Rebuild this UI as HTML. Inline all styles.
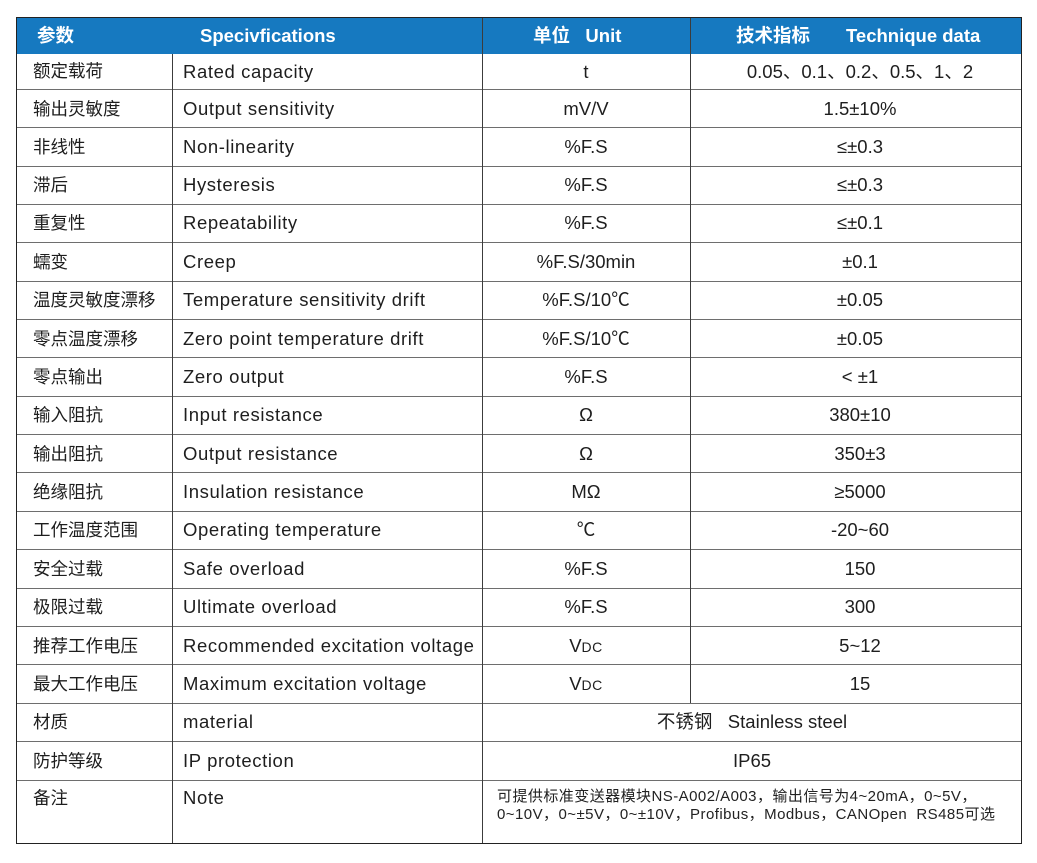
<!DOCTYPE html>
<html>
<head>
<meta charset="utf-8">
<style>
  html,body{margin:0;padding:0;background:#fff;}
  body{width:1037px;height:863px;position:relative;overflow:hidden;
       font-family:"Liberation Sans","Noto Sans CJK SC",sans-serif;color:#1e1e1e;}
  .hdr{position:absolute;left:17px;top:17px;width:1005px;height:37px;background:#1679c0;}
  .ht{position:absolute;top:17px;height:37px;line-height:37px;color:#fff;font-weight:bold;font-size:18.5px;white-space:nowrap;}
  .hl{position:absolute;left:17px;width:1005px;height:1px;background:#6e6e6e;}
  .vl{position:absolute;width:1.4px;background:#3c3c3c;}
  .c1{position:absolute;left:33px;font-size:17.5px;white-space:nowrap;}
  .c2{position:absolute;left:183px;font-size:18.5px;letter-spacing:0.6px;white-space:nowrap;}
  .c3{position:absolute;left:482px;width:208px;text-align:center;font-size:18.5px;white-space:nowrap;}
  .c4{position:absolute;left:694px;width:332px;text-align:center;font-size:18.5px;white-space:nowrap;}
  .cm{position:absolute;left:482px;width:540px;text-align:center;font-size:18.5px;white-space:nowrap;}
  .sc{font-size:14px;letter-spacing:0.5px;}
  .note{position:absolute;left:497px;top:788px;font-size:15px;line-height:18px;letter-spacing:0.45px;white-space:nowrap;color:#222;}
</style>
</head>
<body>
<div class="hdr"></div>
<div class="ht" style="left:37px;">参数</div>
<div class="ht" style="left:200px;">Specivfications</div>
<div class="ht" style="left:533px;">单位&nbsp;&nbsp;&nbsp;Unit</div>
<div class="ht" style="left:736px;">技术指标&nbsp;&nbsp;&nbsp;&nbsp;&nbsp;&nbsp;&nbsp;Technique data</div>

<!-- horizontal lines -->
<div class="hl" style="top:89px;"></div>
<div class="hl" style="top:127px;"></div>
<div class="hl" style="top:166px;"></div>
<div class="hl" style="top:204px;"></div>
<div class="hl" style="top:242px;"></div>
<div class="hl" style="top:281px;"></div>
<div class="hl" style="top:319px;"></div>
<div class="hl" style="top:357px;"></div>
<div class="hl" style="top:396px;"></div>
<div class="hl" style="top:434px;"></div>
<div class="hl" style="top:472px;"></div>
<div class="hl" style="top:511px;"></div>
<div class="hl" style="top:549px;"></div>
<div class="hl" style="top:588px;"></div>
<div class="hl" style="top:626px;"></div>
<div class="hl" style="top:664px;"></div>
<div class="hl" style="top:703px;"></div>
<div class="hl" style="top:741px;"></div>
<div class="hl" style="top:780px;"></div>

<!-- vertical lines -->
<div class="vl" style="left:171.5px;top:54px;height:790px;"></div>
<div class="vl" style="left:481.5px;top:17px;height:827px;"></div>
<div class="vl" style="left:689.5px;top:17px;height:686px;"></div>

<!-- outer border -->
<div style="position:absolute;left:16px;top:16.5px;width:1004px;height:825.5px;border:1.8px solid #222;"></div>

<!-- rows -->
<div class="c1" style="top:54px;line-height:35.5px;">额定载荷</div>
<div class="c2" style="top:54px;line-height:35.5px;">Rated capacity</div>
<div class="c3" style="top:54px;line-height:35.5px;">t</div>
<div class="c4" style="top:54px;line-height:35.5px;">0.05、0.1、0.2、0.5、1、2</div>

<div class="c1" style="top:89.5px;line-height:38.4px;">输出灵敏度</div>
<div class="c2" style="top:89.5px;line-height:38.4px;">Output sensitivity</div>
<div class="c3" style="top:89.5px;line-height:38.4px;">mV/V</div>
<div class="c4" style="top:89.5px;line-height:38.4px;">1.5±10%</div>

<div class="c1" style="top:128px;line-height:38.4px;">非线性</div>
<div class="c2" style="top:128px;line-height:38.4px;">Non-linearity</div>
<div class="c3" style="top:128px;line-height:38.4px;">%F.S</div>
<div class="c4" style="top:128px;line-height:38.4px;">≤±0.3</div>

<div class="c1" style="top:166px;line-height:38.4px;">滞后</div>
<div class="c2" style="top:166px;line-height:38.4px;">Hysteresis</div>
<div class="c3" style="top:166px;line-height:38.4px;">%F.S</div>
<div class="c4" style="top:166px;line-height:38.4px;">≤±0.3</div>

<div class="c1" style="top:204.4px;line-height:38.4px;">重复性</div>
<div class="c2" style="top:204.4px;line-height:38.4px;">Repeatability</div>
<div class="c3" style="top:204.4px;line-height:38.4px;">%F.S</div>
<div class="c4" style="top:204.4px;line-height:38.4px;">≤±0.1</div>

<div class="c1" style="top:242.8px;line-height:38.4px;">蠕变</div>
<div class="c2" style="top:242.8px;line-height:38.4px;">Creep</div>
<div class="c3" style="top:242.8px;line-height:38.4px;">%F.S/30min</div>
<div class="c4" style="top:242.8px;line-height:38.4px;">±0.1</div>

<div class="c1" style="top:281.1px;line-height:38.4px;">温度灵敏度漂移</div>
<div class="c2" style="top:281.1px;line-height:38.4px;">Temperature sensitivity drift</div>
<div class="c3" style="top:281.1px;line-height:38.4px;">%F.S/10℃</div>
<div class="c4" style="top:281.1px;line-height:38.4px;">±0.05</div>

<div class="c1" style="top:319.5px;line-height:38.4px;">零点温度漂移</div>
<div class="c2" style="top:319.5px;line-height:38.4px;">Zero point temperature drift</div>
<div class="c3" style="top:319.5px;line-height:38.4px;">%F.S/10℃</div>
<div class="c4" style="top:319.5px;line-height:38.4px;">±0.05</div>

<div class="c1" style="top:357.9px;line-height:38.4px;">零点输出</div>
<div class="c2" style="top:357.9px;line-height:38.4px;">Zero output</div>
<div class="c3" style="top:357.9px;line-height:38.4px;">%F.S</div>
<div class="c4" style="top:357.9px;line-height:38.4px;">&lt; ±1</div>

<div class="c1" style="top:396.3px;line-height:38.4px;">输入阻抗</div>
<div class="c2" style="top:396.3px;line-height:38.4px;">Input resistance</div>
<div class="c3" style="top:396.3px;line-height:38.4px;">Ω</div>
<div class="c4" style="top:396.3px;line-height:38.4px;">380±10</div>

<div class="c1" style="top:434.6px;line-height:38.4px;">输出阻抗</div>
<div class="c2" style="top:434.6px;line-height:38.4px;">Output resistance</div>
<div class="c3" style="top:434.6px;line-height:38.4px;">Ω</div>
<div class="c4" style="top:434.6px;line-height:38.4px;">350±3</div>

<div class="c1" style="top:473px;line-height:38.4px;">绝缘阻抗</div>
<div class="c2" style="top:473px;line-height:38.4px;">Insulation resistance</div>
<div class="c3" style="top:473px;line-height:38.4px;">MΩ</div>
<div class="c4" style="top:473px;line-height:38.4px;">≥5000</div>

<div class="c1" style="top:511.4px;line-height:38.4px;">工作温度范围</div>
<div class="c2" style="top:511.4px;line-height:38.4px;">Operating temperature</div>
<div class="c3" style="top:511.4px;line-height:38.4px;">℃</div>
<div class="c4" style="top:511.4px;line-height:38.4px;">-20~60</div>

<div class="c1" style="top:549.8px;line-height:38.4px;">安全过载</div>
<div class="c2" style="top:549.8px;line-height:38.4px;">Safe overload</div>
<div class="c3" style="top:549.8px;line-height:38.4px;">%F.S</div>
<div class="c4" style="top:549.8px;line-height:38.4px;">150</div>

<div class="c1" style="top:588.1px;line-height:38.4px;">极限过载</div>
<div class="c2" style="top:588.1px;line-height:38.4px;">Ultimate overload</div>
<div class="c3" style="top:588.1px;line-height:38.4px;">%F.S</div>
<div class="c4" style="top:588.1px;line-height:38.4px;">300</div>

<div class="c1" style="top:626.5px;line-height:38.4px;">推荐工作电压</div>
<div class="c2" style="top:626.5px;line-height:38.4px;">Recommended excitation voltage</div>
<div class="c3" style="top:626.5px;line-height:38.4px;">V<span class="sc">DC</span></div>
<div class="c4" style="top:626.5px;line-height:38.4px;">5~12</div>

<div class="c1" style="top:664.9px;line-height:38.4px;">最大工作电压</div>
<div class="c2" style="top:664.9px;line-height:38.4px;">Maximum excitation voltage</div>
<div class="c3" style="top:664.9px;line-height:38.4px;">V<span class="sc">DC</span></div>
<div class="c4" style="top:664.9px;line-height:38.4px;">15</div>

<div class="c1" style="top:703.3px;line-height:38.4px;">材质</div>
<div class="c2" style="top:703.3px;line-height:38.4px;">material</div>
<div class="cm" style="top:703.3px;line-height:38.4px;">不锈钢&nbsp;&nbsp;&nbsp;Stainless steel</div>

<div class="c1" style="top:741.6px;line-height:38.4px;">防护等级</div>
<div class="c2" style="top:741.6px;line-height:38.4px;">IP protection</div>
<div class="cm" style="top:741.6px;line-height:38.4px;">IP65</div>

<div class="c1" style="top:779px;line-height:38.4px;">备注</div>
<div class="c2" style="top:779px;line-height:38.4px;">Note</div>
<div class="note">可提供标准变送器模块NS-A002/A003，输出信号为4~20mA，0~5V，<br>0~10V，0~±5V，0~±10V，Profibus，Modbus，CANOpen&nbsp;&nbsp;RS485可选</div>
</body>
</html>
